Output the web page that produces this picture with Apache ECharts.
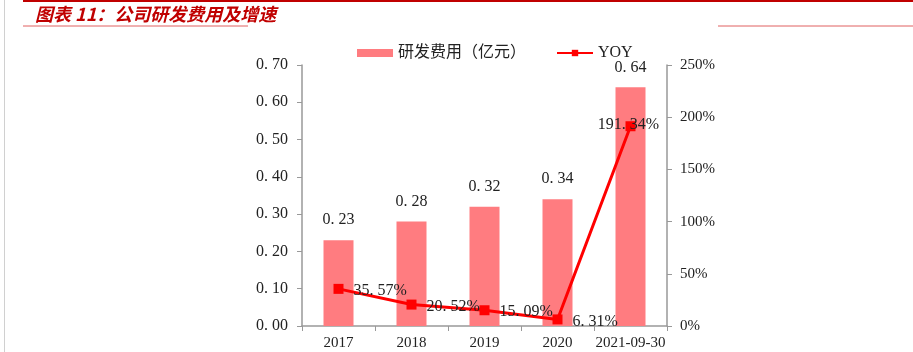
<!DOCTYPE html>
<html><head><meta charset="utf-8">
<script src="https://cdn.jsdelivr.net/npm/echarts@6/dist/echarts.min.js"></script>
<style>html,body{margin:0;padding:0;background:#fff}#c{width:913px;height:352px}</style>
</head><body><div id="c"></div>
<script>
const categories = ['2017', '2018', '2019', '2020', '2021-09-30'];
const rdExpense = [0.23, 0.28, 0.32, 0.34, 0.64];
const yoy = [35.57, 20.52, 15.09, 6.31, 191.34];
const leftTicks = {min: 0, max: 0.7, interval: 0.1};
const rightTicks = {min: 0, max: 250, interval: 50};
const titleText = '图表 11：公司研发费用及增速';
const seriesNames = ['研发费用（亿元）', 'YOY'];

const serif = '"Liberation Serif", "Times New Roman", serif';
const mixed = '"Liberation Serif", "Noto Sans CJK SC", serif';
const chart = echarts.init(document.getElementById('c'), null, {renderer: 'canvas'});
chart.setOption({
  animation: false,
  backgroundColor: '#fff',
  graphic: [
    {type: 'line', shape: {x1: 4.5, y1: 0, x2: 4.5, y2: 352}, style: {stroke: '#d0d0d0', lineWidth: 1}},
    {type: 'line', shape: {x1: 23, y1: 1, x2: 913, y2: 1}, style: {stroke: '#c00000', lineWidth: 2}},
    {type: 'line', shape: {x1: 23, y1: 26, x2: 248, y2: 26}, style: {stroke: '#e06060', lineWidth: 1}},
    {type: 'line', shape: {x1: 718, y1: 26, x2: 913, y2: 26}, style: {stroke: '#e06060', lineWidth: 1}},
    {type: 'text', left: 35, top: 5, style: {text: titleText, fill: '#c00000', font: 'italic bold 18px "Noto Sans CJK SC", sans-serif'}}
  ],
  legend: {
    top: 40, left: 352,
    itemGap: 30,
    textStyle: {fontFamily: mixed, fontSize: 16, color: '#222'},
    data: [
      {name: seriesNames[0], icon: 'rect', itemStyle: {color: '#ff7c80'}},
      {name: seriesNames[1]}
    ],
    itemWidth: 36, itemHeight: 8
  },
  grid: {left: 302, right: 246, top: 65, bottom: 26},
  xAxis: {
    type: 'category', data: categories,
    axisLine: {lineStyle: {color: '#999', width: 1.5}},
    axisTick: {show: true, alignWithLabel: false, lineStyle: {color: '#999'}},
    axisLabel: {interval: 0, fontFamily: serif, fontSize: 15, color: '#222', margin: 10}
  },
  yAxis: [
    {type: 'value', min: leftTicks.min, max: leftTicks.max, interval: leftTicks.interval,
     splitLine: {show: false},
     axisLine: {show: true, lineStyle: {color: '#999', width: 1.5}},
     axisTick: {show: true, length: 5, lineStyle: {color: '#999'}},
     axisLabel: {fontFamily: serif, fontSize: 16, color: '#222', margin: 14,
       formatter: v => v.toFixed(2).replace('.', '. ')}},
    {type: 'value', min: rightTicks.min, max: rightTicks.max, interval: rightTicks.interval,
     splitLine: {show: false},
     axisLine: {show: true, lineStyle: {color: '#999', width: 1.5}},
     axisTick: {show: true, length: 5, lineStyle: {color: '#999'}},
     axisLabel: {fontFamily: serif, fontSize: 15, color: '#222', margin: 13,
       formatter: v => v + '%'}}
  ],
  series: [
    {name: seriesNames[0], type: 'bar', data: rdExpense, barWidth: 30,
     itemStyle: {color: '#ff7c80'},
     label: {show: true, position: 'top', distance: 12, fontFamily: serif, fontSize: 16, color: '#222',
       formatter: p => p.value.toFixed(2).replace('.', '. ')}},
    {name: seriesNames[1], type: 'line', yAxisIndex: 1,
     data: yoy.map((v, i) => i === yoy.length - 1
       ? {value: v, label: {position: 'inside', offset: [-2, -1]}}
       : {value: v}),
     symbol: 'rect', symbolSize: 10,
     lineStyle: {color: '#ff0000', width: 3},
     itemStyle: {color: '#ff0000'},
     label: {show: true, position: 'right', distance: 10, offset: [0, 2], fontFamily: serif, fontSize: 16, color: '#222',
       formatter: p => p.value.toFixed(2).replace('.', '. ') + '%'}}
  ]
});
</script></body></html>
